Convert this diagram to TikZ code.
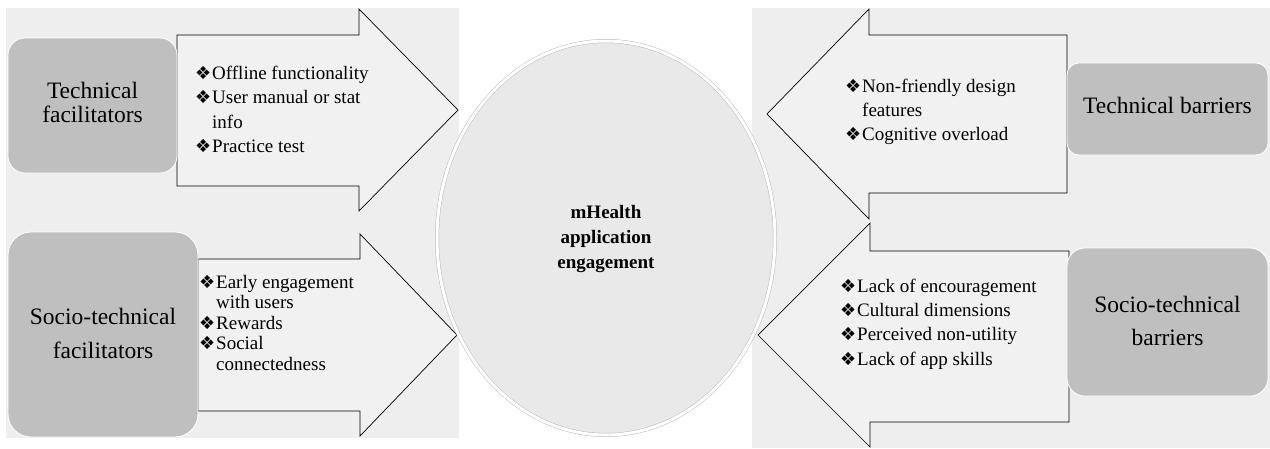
\documentclass[tikz,border=0pt]{standalone}
\usepackage{fontspec}
\setmainfont{Liberation Serif}
\newfontfamily\dingfont{DejaVu Sans}
\usepackage{tikz}
\usetikzlibrary{shapes.geometric,positioning}
\definecolor{bggray}{HTML}{EEEEEE}
\definecolor{arrowgray}{HTML}{F1F1F1}
\definecolor{boxgray}{HTML}{BFBFBF}
\definecolor{ovalgray}{HTML}{E9E9E9}
\newcommand{\bul}{\makebox[17pt][l]{\fontsize{18}{18}\dingfont ❖}}
\newcommand{\ind}{\hspace*{17pt}}

\tikzset{
  bigarrow/.style={fill=arrowgray, draw=black, line width=0.7pt},
  factorbox/.style={fill=boxgray, draw=white, line width=0.8pt, inner sep=0pt, align=center,
    font=\fontsize{23.5}{#1}\selectfont},
  factorbox/.default=24,
  itemlist/.style={anchor=north west, inner sep=0pt, align=left,
    font=\fontsize{19}{#1}\selectfont},
  itemlist/.default=24.5
}

\begin{document}
\begin{tikzpicture}[x=1pt,y=-1pt]
\useasboundingbox (0,0) rectangle (1270,448);
\fill[bggray] (6,8) rectangle (459,438);
\fill[bggray] (752,8) rectangle (1270,448);

\draw[bigarrow] (177,35) -- (359,35) -- (359,9) -- (458,110) -- (359,211) -- (359,186) -- (177,186) -- cycle;
\draw[bigarrow] (198,259) -- (360,259) -- (360,234) -- (457,335) -- (360,436) -- (360,411) -- (198,411) -- cycle;
\draw[bigarrow] (1067,35) -- (869,35) -- (869,9) -- (767,114) -- (869,219) -- (869,193) -- (1067,193) -- cycle;
\draw[bigarrow] (1069,251) -- (870,251) -- (870,223) -- (758,335) -- (870,447) -- (870,422) -- (1069,422) -- cycle;

\node[factorbox, rounded corners=17pt, minimum width=169pt, minimum height=135pt] (techfac) at (92.5,105.5)
  {\strut Technical\\\strut facilitators};
\node[factorbox=34, rounded corners=23pt, minimum width=190pt, minimum height=205pt] (sociofac) at (103,334.5)
  {\strut Socio-technical\\\strut facilitators};
\node[factorbox, rounded corners=12pt, minimum width=201pt, minimum height=92pt] (techbar) at (1167.5,109)
  {\strut Technical barriers};
\node[factorbox=33, rounded corners=18pt, minimum width=201pt, minimum height=148pt] (sociobar) at (1167.5,322)
  {\strut Socio-technical\\\strut barriers};

\node[ellipse, fill=ovalgray, draw=gray!55, double=white, double distance=3pt, line width=0.5pt,
  minimum width=338pt, minimum height=394pt, inner sep=0pt, align=center,
  font=\bfseries\fontsize{19}{25}\selectfont] (engage) at (606,238)
  {\strut mHealth\\\strut application\\\strut engagement};

\node[itemlist] (techfaclist) at (195,61.85)
  {\bul Offline functionality\strut\\
   \bul User manual or stat\strut\\
   \ind info\strut\\
   \bul Practice test\strut};
\node[itemlist=20.5] (sociofaclist) at (199,273.65)
  {\bul Early engagement\strut\\
   \ind with users\strut\\
   \bul Rewards\strut\\
   \bul Social\strut\\
   \ind connectedness\strut};
\node[itemlist=24] (techbarlist) at (845,75.2)
  {\bul Non-friendly design\strut\\
   \ind features\strut\\
   \bul Cognitive overload\strut};
\node[itemlist=24.3] (sociobarlist) at (840,275)
  {\bul Lack of encouragement\strut\\
   \bul Cultural dimensions\strut\\
   \bul Perceived non-utility\strut\\
   \bul Lack of app skills\strut};
\end{tikzpicture}
\end{document}
